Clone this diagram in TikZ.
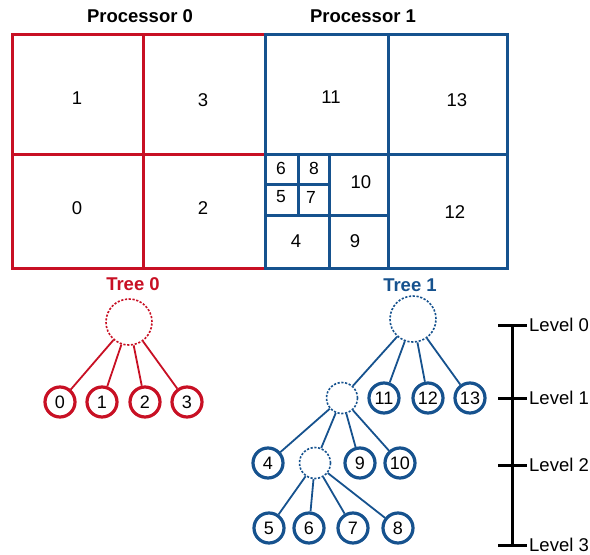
\documentclass[tikz,border=0pt]{standalone}
\usepackage{fontspec}
\setmainfont{Liberation Sans}
\definecolor{pred}{RGB}{200,16,36}
\definecolor{pblue}{RGB}{22,82,142}
\begin{document}
\begin{tikzpicture}[x=1pt,y=-1pt,
  cellnum/.style={font=\fontsize{18.5}{18.5}\selectfont},
  smallnum/.style={font=\fontsize{17.5}{17.5}\selectfont},
  title/.style={font=\bfseries\fontsize{18.5}{18.5}\selectfont},
  leafR/.style={circle,draw=pred,line width=3.2pt,minimum size=30pt,inner sep=0pt,font=\fontsize{18}{18}\selectfont},
  leafB/.style={circle,draw=pblue,line width=3.2pt,minimum size=30pt,inner sep=0pt,font=\fontsize{18}{18}\selectfont},
  rootR/.style={circle,draw=pred,dash pattern=on 2.2pt off 1.6pt,line width=1.6pt,minimum size=46pt,inner sep=0pt},
  rootB/.style={circle,draw=pblue,dash pattern=on 2.2pt off 1.6pt,line width=1.6pt,minimum size=46pt,inner sep=0pt},
  midB/.style={circle,draw=pblue,dash pattern=on 2.2pt off 1.6pt,line width=1.6pt,minimum size=31pt,inner sep=0pt},
  edgeR/.style={draw=pred,line width=1.8pt},
  edgeB/.style={draw=pblue,line width=1.8pt},
  gridR/.style={draw=pred,line width=3pt},
  gridB/.style={draw=pblue,line width=3pt},
  lvl/.style={font=\fontsize{18.5}{18.5}\selectfont,anchor=west,inner sep=0pt},
  scaleline/.style={line width=3pt,black}]
\useasboundingbox (0,0) rectangle (590,555);
% Titles
\node[title] (p0) at (140,16) {Processor 0};
\node[title] (p1) at (363,16) {Processor 1};
% Processor 0 grid
\draw[gridR] (12,34) rectangle (265,268);
\draw[gridR] (143,34) -- (143,268);
\draw[gridR] (12,154) -- (265,154);
% Processor 1 grid
\draw[gridB] (265,34) rectangle (507,268);
\draw[gridB] (388,34) -- (388,268);
\draw[gridB] (265,154) -- (507,154);
\draw[gridB] (329,154) -- (329,268);
\draw[gridB] (265,215) -- (388,215);
\draw[gridB] (298,154) -- (298,215);
\draw[gridB] (265,184) -- (329,184);
% Cell numbers
\node[cellnum] (c1) at (77,98) {1};
\node[cellnum] (c3) at (203,100) {3};
\node[cellnum] (c0) at (77,208) {0};
\node[cellnum] (c2) at (203,208) {2};
\node[cellnum] (c11) at (331,97) {11};
\node[cellnum] (c13) at (457,100) {13};
\node[cellnum] (c12) at (455,212) {12};
\node[cellnum] (c10) at (361,182) {10};
\node[cellnum] (c4) at (296,241) {4};
\node[cellnum] (c9) at (355,241) {9};
\node[smallnum] (c6) at (281,168) {6};
\node[smallnum] (c8) at (314,168) {8};
\node[smallnum] (c5) at (281,197) {5};
\node[smallnum] (c7) at (311,197) {7};
% Tree 0
\node[title,text=pred] (t0) at (133,284) {Tree 0};
\node[rootR] (r0) at (129,322) {};
\node[leafR] (a0) at (60,402) {0};
\node[leafR] (a1) at (102,402) {1};
\node[leafR] (a2) at (145,402) {2};
\node[leafR] (a3) at (187,402) {3};
\foreach \n in {a0,a1,a2,a3} \draw[edgeR] (r0) -- (\n);
% Tree 1
\node[title,text=pblue] (t1) at (410,285) {Tree 1};
\node[rootB] (r1) at (413,319) {};
\node[midB] (m1) at (342,398) {};
\node[leafB] (b11) at (384,398) {11};
\node[leafB] (b12) at (428,398) {12};
\node[leafB] (b13) at (470,398) {13};
\node[leafB] (b4) at (268,463) {4};
\node[midB] (m2) at (315,463) {};
\node[leafB] (b9) at (360,463) {9};
\node[leafB] (b10) at (400,463) {10};
\node[leafB] (b5) at (269,528) {5};
\node[leafB] (b6) at (309,528) {6};
\node[leafB] (b7) at (353,528) {7};
\node[leafB] (b8) at (398,528) {8};
\foreach \n in {m1,b11,b12,b13} \draw[edgeB] (r1) -- (\n);
\foreach \n in {b4,m2,b9,b10} \draw[edgeB] (m1) -- (\n);
\foreach \n in {b5,b6,b7,b8} \draw[edgeB] (m2) -- (\n);
% Level scale
\coordinate (s0) at (512,325);
\coordinate (s3) at (512,545);
\draw[scaleline] (s0) -- (s3);
\coordinate (k0l) at (498,325); \coordinate (k0r) at (527,325);
\coordinate (k1l) at (498,398); \coordinate (k1r) at (527,398);
\coordinate (k2l) at (498,465); \coordinate (k2r) at (527,465);
\coordinate (k3l) at (498,545); \coordinate (k3r) at (527,545);
\draw[scaleline] (k0l) -- (k0r);
\draw[scaleline] (k1l) -- (k1r);
\draw[scaleline] (k2l) -- (k2r);
\draw[scaleline] (k3l) -- (k3r);
\node[lvl] (l0) at (529,325) {Level 0};
\node[lvl] (l1) at (529,398) {Level 1};
\node[lvl] (l2) at (529,465) {Level 2};
\node[lvl] (l3) at (529,545) {Level 3};
\end{tikzpicture}
\end{document}
